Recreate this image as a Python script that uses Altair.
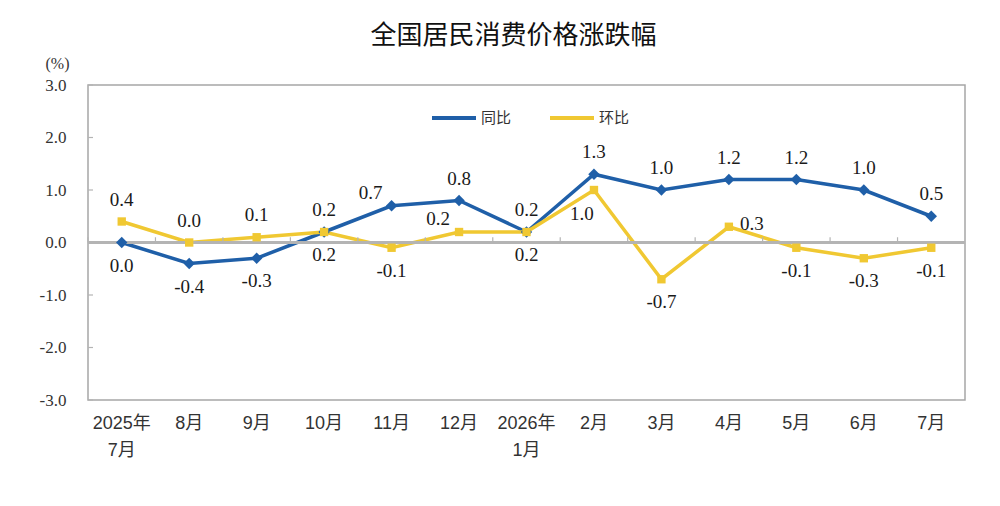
import altair as alt
import pandas as pd

months = ["2025年\n7月", "8月", "9月", "10月", "11月", "12月", "2026年\n1月",
          "2月", "3月", "4月", "5月", "6月", "7月"]
yoy = [0.0, -0.4, -0.3, 0.2, 0.7, 0.8, 0.2, 1.3, 1.0, 1.2, 1.2, 1.0, 0.5]
mom = [0.4, 0.0, 0.1, 0.2, -0.1, 0.2, 0.2, 1.0, -0.7, 0.3, -0.1, -0.3, -0.1]
# where each value label sits relative to its point
yoy_side = ["下", "下", "下", "下", "左上", "上", "上", "上", "上", "上", "上", "上", "上"]
mom_side = ["上", "上", "上", "上", "下", "左上", "下", "左下", "下", "右", "下", "下", "下"]
series = ["同比", "环比"]
colors = ["#1f5fa8", "#f0c832"]
shapes = ["diamond", "square"]
y_ticks = [-3, -2, -1, 0, 1, 2, 3]

rows = []
for i, m in enumerate(months):
    rows.append({"month": m, "series": series[0], "value": yoy[i], "side": yoy_side[i]})
for i, m in enumerate(months):
    rows.append({"month": m, "series": series[1], "value": mom[i], "side": mom_side[i]})
df = pd.DataFrame(rows)
df_months = pd.DataFrame({"month": months})
df_yt = pd.DataFrame({"v": y_ticks})

SANS = "Liberation Sans, Noto Sans CJK SC"
CJK = "Noto Sans CJK SC"
SERIF = "Liberation Serif"

xscale = alt.Scale(type="band", paddingInner=0, paddingOuter=0)
yscale = alt.Scale(domain=[-3, 3], nice=False)

x_enc = alt.X("month:N", sort=months, scale=xscale, title=None,
              axis=alt.Axis(orient="bottom", domain=False, ticks=False, labelAngle=0,
                            labelExpr="split(datum.label, '\\n')",
                            labelFont=SANS, labelFontSize=18, labelColor="#333",
                            labelPadding=14, labelBaseline="top", labelLineHeight=27,
                            grid=False))
y_enc = alt.Y("value:Q", scale=yscale, title="(%)",
              axis=alt.Axis(values=y_ticks, format=".1f",
                            labelExpr="replace(datum.label, '\u2212', '-')",
                            domain=False, ticks=False,
                            grid=False, labelFont=SERIF, labelFontSize=17,
                            labelColor="#333", labelPadding=22,
                            titleAngle=0, titleX=-31, titleY=-22, titleAlign="center",
                            titleBaseline="middle", titleFont=SERIF,
                            titleFontSize=16, titleFontWeight="normal", titleColor="#333"))

lines = alt.Chart(df).mark_line(strokeWidth=3.5).encode(
    x=x_enc, y=y_enc,
    color=alt.Color("series:N", scale=alt.Scale(domain=series, range=colors),
                    legend=alt.Legend(title=None, orient="none", legendX=342, legendY=9,
                                      direction="horizontal", symbolType="stroke",
                                      symbolStrokeWidth=4, symbolSize=1936,
                                      labelFont=CJK, labelFontSize=15, labelColor="#333",
                                      columnPadding=30, labelOffset=3)),
    detail="series:N")

zero = alt.Chart(df_months).mark_rule(color="#b4b4b4", strokeWidth=1.5).encode(
    y=alt.datum(0))

xticks = alt.Chart(df_months).mark_rule(color="#b4b4b4", strokeWidth=1.2).encode(
    x=alt.X("month:N", sort=months, bandPosition=0),
    y=alt.datum(0), y2=alt.datum(0.1))

yticks = alt.Chart(df_yt).mark_rule(color="#b4b4b4", strokeWidth=1.2).encode(
    y=alt.Y("v:Q"), x=alt.value(0), x2=alt.value(5))

point_layers = []
for s, c, sh, sz in zip(series, colors, shapes, [130, 70]):
    point_layers.append(
        alt.Chart(df).transform_filter(alt.datum.series == s).mark_point(
            filled=True, opacity=1, shape=sh, color=c, size=sz).encode(
            x=alt.X("month:N", sort=months),
            y=alt.Y("value:Q")))

offsets = {"上": (0, -22), "下": (0, 23), "右": (23, -3), "左下": (-12, 24),
           "左上": (-21, -13)}
labels = []
for side, (dx, dy) in offsets.items():
    labels.append(
        alt.Chart(df).transform_filter(alt.datum.side == side)
        .transform_calculate(lbl="replace(format(datum.value, '.1f'), '\u2212', '-')")
        .mark_text(font=SERIF, fontSize=19, color="#1a1a1a", dx=dx, dy=dy,
                   baseline="middle", align="center").encode(
            x=alt.X("month:N", sort=months),
            y=alt.Y("value:Q"),
            text=alt.Text("lbl:N")))

chart = alt.layer(lines, zero, xticks, yticks, *point_layers, *labels).properties(
    width=877, height=315,
    padding={"left": 80, "top": 77, "right": 27, "bottom": 98},
    autosize=alt.AutoSizeParams(type="none"),
    title=alt.Title("全国居民消费价格涨跌幅", font=CJK, fontSize=26, fontWeight="normal",
                    color="#111", anchor="middle", dx=-13, offset=6),
    background="white",
).configure_view(stroke="#a6a6a6", strokeWidth=1.5)

chart.save("out.html", embed_options={"renderer": "svg", "actions": False})
